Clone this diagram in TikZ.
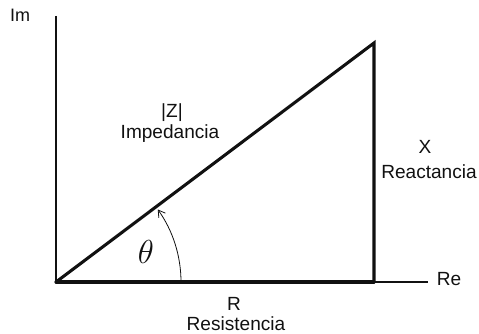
\documentclass[tikz,border=0pt]{standalone}
\usepackage{fontspec}
\setmainfont{Liberation Sans}
\usepackage{tikz}
\usetikzlibrary{arrows.meta}
\definecolor{ink}{HTML}{111111}

\begin{document}
\begin{tikzpicture}[
  x=0.75pt,y=0.75pt,
  every node/.style={font=\fontsize{14.3}{17}\selectfont,text=ink,inner sep=0pt,anchor=base},
  axislabel/.style={font=\fontsize{13.5}{16}\selectfont},
  axis/.style={draw=ink,line width=1.5pt},
  side/.style={draw=ink,line width=2.3pt,line cap=round,line join=miter},
  anglearrow/.style={draw=ink,line width=0.6pt,-{Straight Barb[length=5pt,width=6pt]}}
]
\useasboundingbox (0,0) rectangle (479,333);

% corners of the triangle and axis ends
\coordinate (O) at (56,51);
\coordinate (top) at (374,290);
\coordinate (corner) at (374,51);
\coordinate (imend) at (56,317);
\coordinate (reend) at (428,51);
\coordinate (arcstart) at (181,51);

\node[axislabel] (im) at (20,311) {Im};
\node (re) at (449,48) {Re};

\node (zabs) at (172,216) {|Z|};
\node (imped) at (170,195) {Impedancia};
\node (xlbl) at (425,180) {X};
\node (react) at (429,155) {Reactancia};
\node (rlbl) at (234,23) {R};
\node (resist) at (236,3) {Resistencia};
\node[font=\fontsize{25}{28}\selectfont] (theta) at (146,70) {$\theta$};

\draw[axis] (imend) -- (O);
\draw[axis] (O) -- (reend);
\draw[side] (O) -- (corner);
\draw[side] (O) -- (top) -- (corner);
\draw[anglearrow] (arcstart) arc[start angle=0,end angle=35.5,radius=125];
\end{tikzpicture}
\end{document}
